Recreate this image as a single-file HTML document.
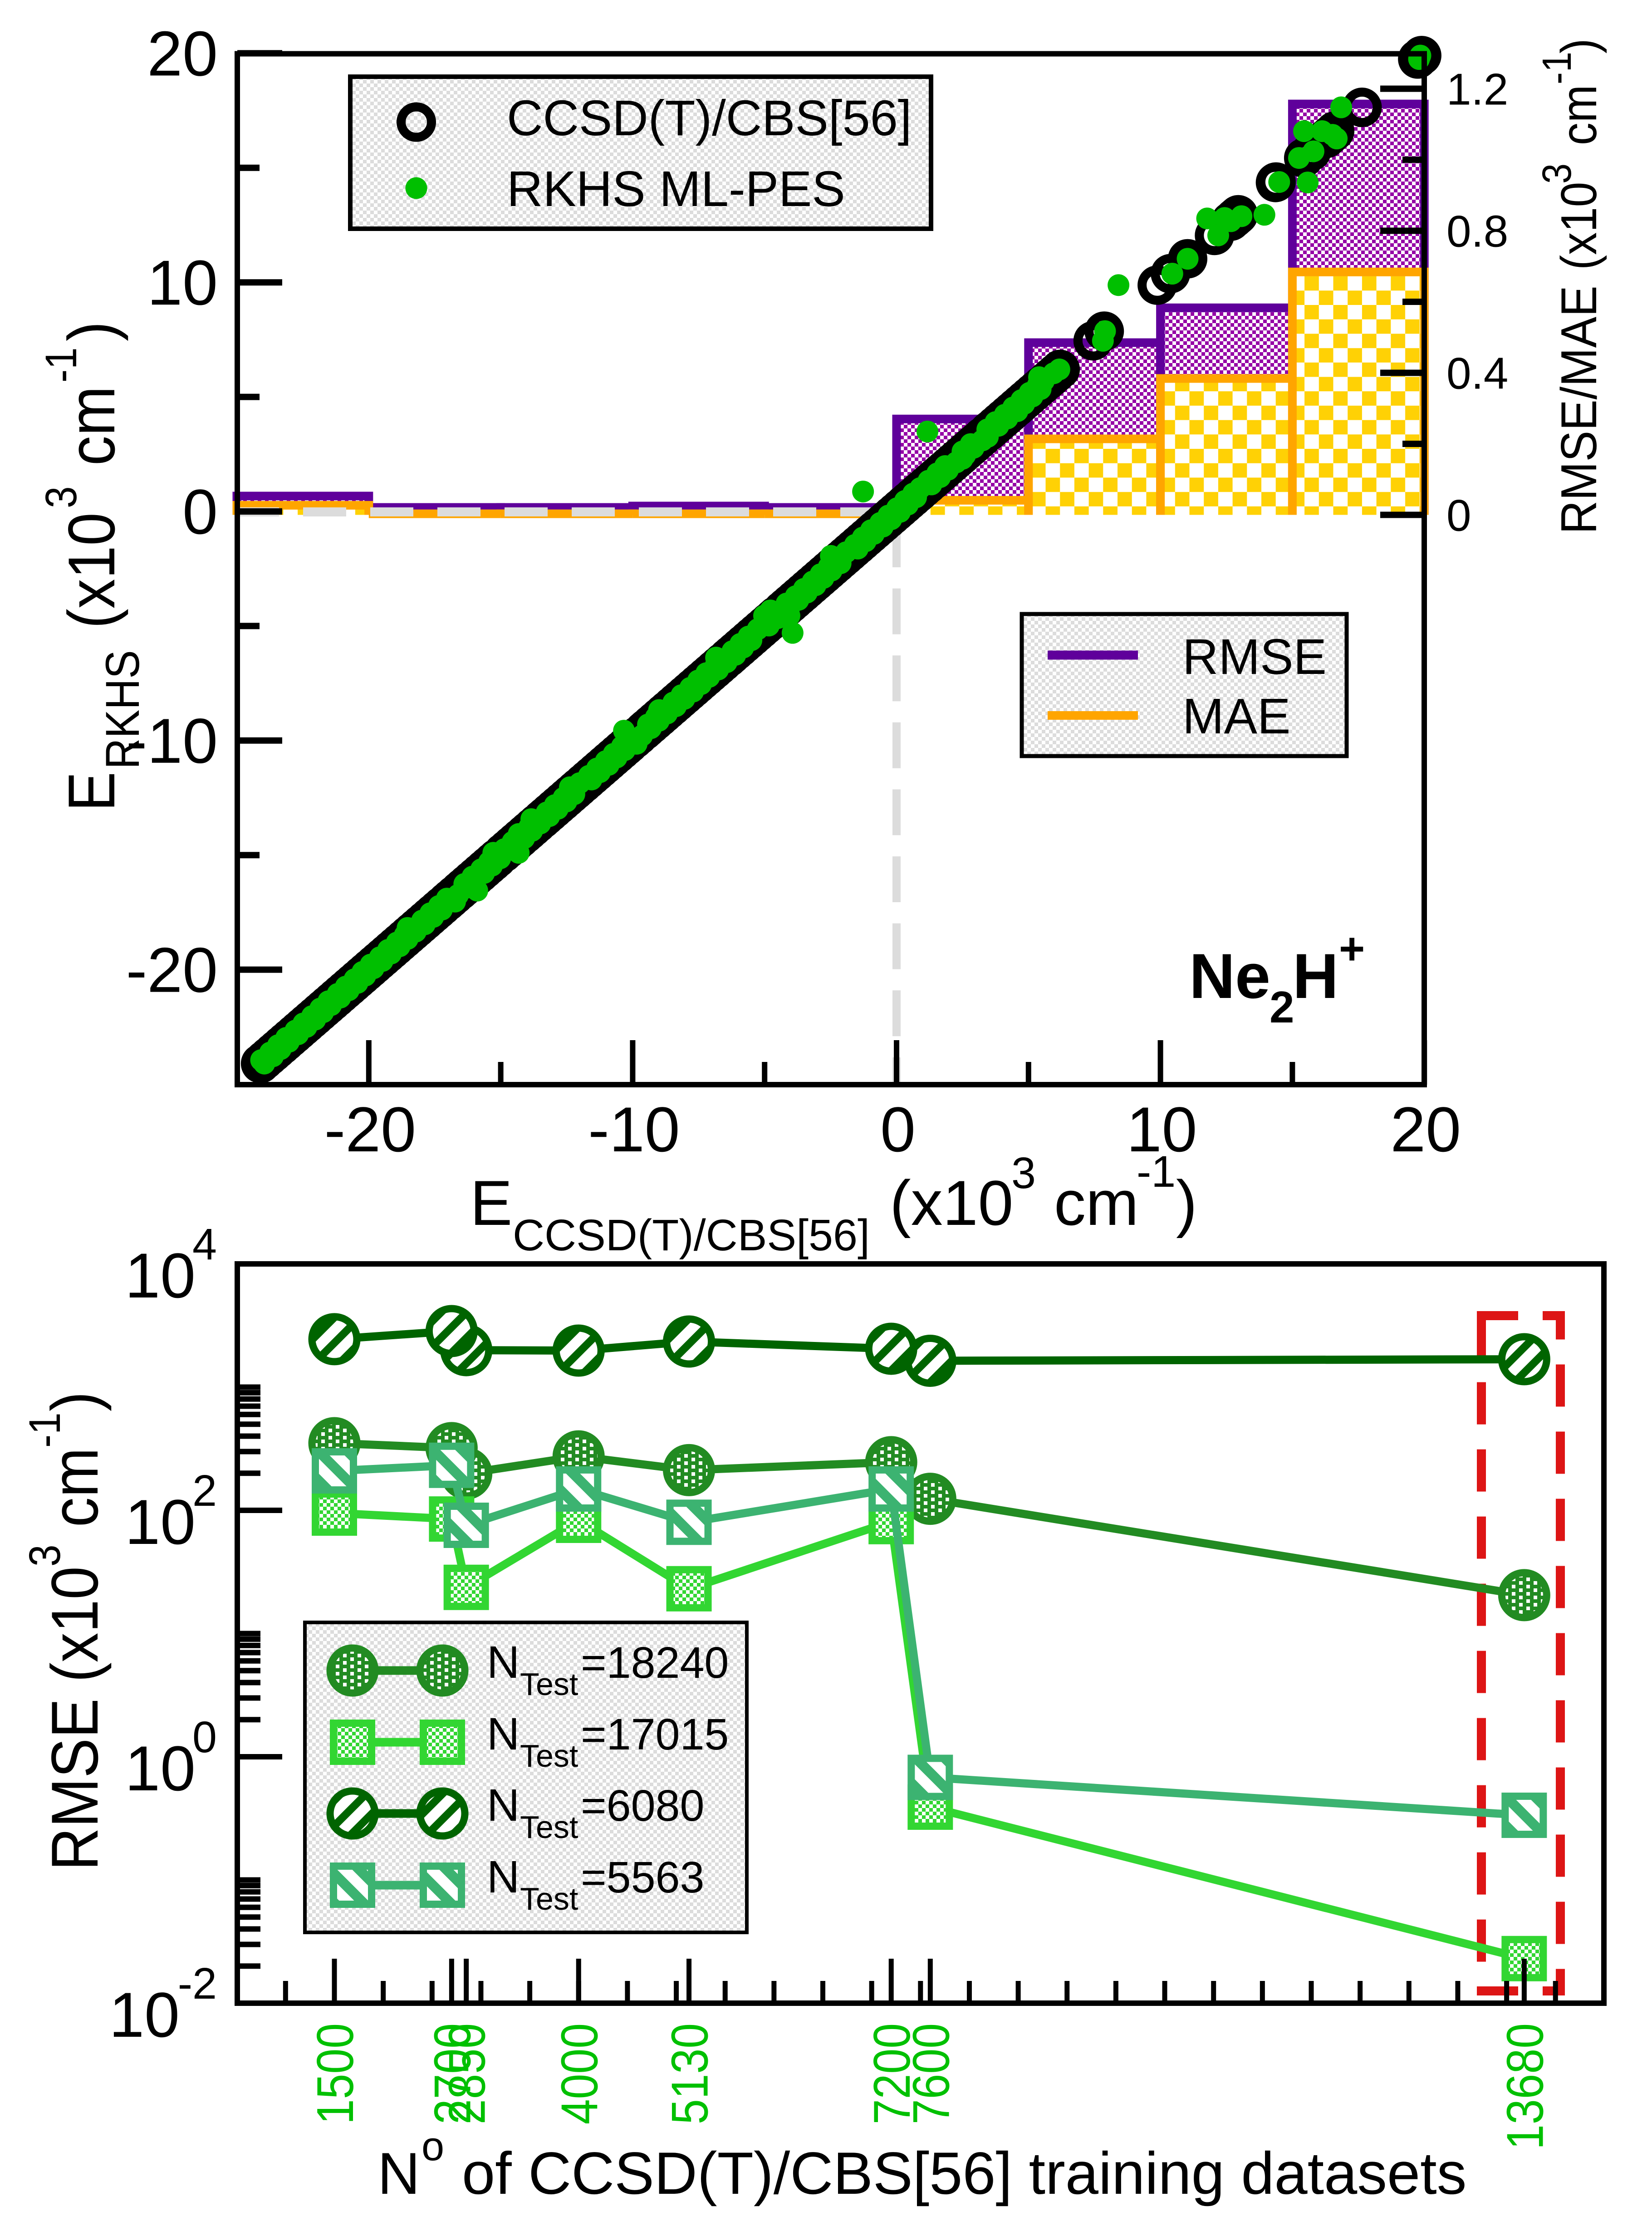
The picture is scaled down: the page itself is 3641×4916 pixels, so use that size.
<!DOCTYPE html>
<html lang="en">
<head>
<meta charset="utf-8">
<title>Ne2H+ RKHS ML-PES correlation and RMSE convergence</title>
<style>
html,body{margin:0;padding:0;background:#fff;}
svg{display:block;}
text{font-family:"Liberation Sans",sans-serif;fill:#000;}
</style>
</head>
<body>
<svg id="figure" xmlns="http://www.w3.org/2000/svg" width="3641" height="4916" viewBox="0 0 3641 4916">
<defs>
<pattern id="legendFill" patternUnits="userSpaceOnUse" width="16" height="16">
<rect width="16" height="16" fill="#fff"/><rect width="8" height="8" fill="#dcdcdc"/><rect x="8" y="8" width="8" height="8" fill="#dcdcdc"/>
</pattern>
<pattern id="rmseFill" patternUnits="userSpaceOnUse" width="16" height="16">
<rect width="16" height="16" fill="#fff"/><rect width="8" height="8" fill="#9500a6"/><rect x="8" y="8" width="8" height="8" fill="#9500a6"/>
</pattern>
<pattern id="maeFill" patternUnits="userSpaceOnUse" width="63.4" height="63.4" patternTransform="translate(2304.5,989)">
<rect width="63.4" height="63.4" fill="#fff"/><rect width="31.7" height="31.7" fill="#ffd105"/><rect x="31.7" y="31.7" width="31.7" height="31.7" fill="#ffd105"/>
</pattern>
<pattern id="dotsFill" patternUnits="userSpaceOnUse" width="32" height="16">
<rect width="32" height="16" fill="#228b22"/><rect x="4" y="4" width="8" height="8" fill="#fff"/><rect x="20" y="12" width="8" height="4" fill="#fff"/><rect x="20" y="0" width="8" height="4" fill="#fff"/>
</pattern>
<pattern id="checkFill" patternUnits="userSpaceOnUse" width="16" height="16">
<rect width="16" height="16" fill="#fff"/><rect width="8" height="8" fill="#32d632"/><rect x="8" y="8" width="8" height="8" fill="#32d632"/>
</pattern>
<pattern id="stripeUp" patternUnits="userSpaceOnUse" width="56" height="56">
<rect width="56" height="56" fill="#fff"/><path d="M-14 14L14 -14M0 56L56 0M42 70L70 42" stroke="#006400" stroke-width="17" fill="none"/>
</pattern>
<pattern id="stripeDown" patternUnits="userSpaceOnUse" width="64" height="64">
<rect width="64" height="64" fill="#fff"/><path d="M-16 48L16 80M0 0L64 64M48 -16L80 16" stroke="#3cb371" stroke-width="22" fill="none"/>
</pattern>
</defs>
<rect width="3641" height="4916" fill="#fff"/>

<g id="topBars"></g>
<line x1="522" y1="1128" x2="1944" y2="1128" stroke="#dcdcdc" stroke-width="20" stroke-dasharray="95 53" stroke-dashoffset="2"/>
<line x1="1976" y1="1149" x2="1976" y2="2384" stroke="#dcdcdc" stroke-width="18" stroke-dasharray="101 46.6"/>
<g id="topRings"></g>
<g id="topDots"></g>
<rect x="523" y="118.5" width="2616" height="2271.5" fill="none" stroke="#000" stroke-width="12"/>
<g id="topAxes"></g>

<g>
<rect x="772" y="169" width="1280" height="335" fill="url(#legendFill)" stroke="#000" stroke-width="10"/>
<circle cx="917.5" cy="269" r="33.5" fill="none" stroke="#000" stroke-width="20"/>
<circle cx="917.5" cy="414.5" r="24" fill="#00bf00"/>
<text x="1117" y="298" font-size="110">CCSD(T)/CBS[56]</text>
<text x="1117" y="454" font-size="110">RKHS ML-PES</text>
</g>

<g>
<rect x="2252" y="1353" width="716" height="313" fill="url(#legendFill)" stroke="#000" stroke-width="9"/>
<line x1="2309" y1="1443.5" x2="2508" y2="1443.5" stroke="#5f009b" stroke-width="20"/>
<line x1="2309" y1="1576.5" x2="2508" y2="1576.5" stroke="#ffa500" stroke-width="19"/>
<text x="2606" y="1485" font-size="110">RMSE</text>
<text x="2606" y="1616" font-size="110">MAE</text>
</g>

<g font-weight="bold">
<text x="2621" y="2199" font-size="140" font-weight="bold">Ne</text>
<text x="2798" y="2253" font-size="98" font-weight="bold">2</text>
<text x="2849" y="2199" font-size="140" font-weight="bold">H</text>
<text x="2951" y="2124" font-size="98" font-weight="bold">+</text>
</g>

<g>
<text transform="translate(252,1788) rotate(-90) scale(.9,1)" font-size="146">E</text>
<text transform="translate(306,1695) rotate(-90) scale(.9,1)" font-size="105">RKHS</text>
<text transform="translate(252,1385) rotate(-90) scale(.9,1)" font-size="146">(x10</text>
<text transform="translate(168,1120) rotate(-90) scale(.9,1)" font-size="97">3</text>
<text transform="translate(252,1026) rotate(-90) scale(.9,1)" font-size="146">cm</text>
<text transform="translate(168,843) rotate(-90) scale(.9,1)" font-size="97">-1</text>
<text transform="translate(252,752) rotate(-90) scale(.9,1)" font-size="146">)</text>
</g>

<g>
<text x="1036" y="2699" font-size="140">E</text>
<text x="1130" y="2755" font-size="97">CCSD(T)/CBS[56]</text>
<text x="1961" y="2699" font-size="140">(x10</text>
<text x="2229" y="2618" font-size="97">3</text>
<text x="2323" y="2699" font-size="140">cm</text>
<text x="2505" y="2615" font-size="97">-1</text>
<text x="2592" y="2699" font-size="140">)</text>
</g>

<g>
<text transform="translate(3518,1177) rotate(-90) scale(.925,1)" font-size="111">RMSE/MAE</text>
<text transform="translate(3518,595) rotate(-90) scale(.9,1)" font-size="111">(x10</text>
<text transform="translate(3462,405) rotate(-90) scale(.9,1)" font-size="90">3</text>
<text transform="translate(3518,320) rotate(-90) scale(.9,1)" font-size="111">cm</text>
<text transform="translate(3462,186) rotate(-90) scale(.9,1)" font-size="90">-1</text>
<text transform="translate(3518,118) rotate(-90) scale(.9,1)" font-size="111">)</text>
</g>

<g stroke="#dd1515" stroke-width="20" fill="none">
<line x1="3255" y1="2899" x2="3449" y2="2899" stroke-dasharray="91 54"/>
<line x1="3255" y1="4387" x2="3449" y2="4387" stroke-dasharray="91 54"/>
<line x1="3265" y1="2889" x2="3265" y2="4397" stroke-dasharray="93 55" stroke-dashoffset="139.4"/>
<line x1="3439" y1="2889" x2="3439" y2="4397" stroke-dasharray="93 55" stroke-dashoffset="30.5"/>
</g>

<g id="bottomSeries"></g>
<rect x="523" y="2785" width="3012" height="1629" fill="none" stroke="#000" stroke-width="12"/>
<g id="bottomAxes"></g>

<g>
<rect x="672" y="3575" width="974" height="683" fill="url(#legendFill)" stroke="#000" stroke-width="8"/>
<g>
<line x1="777" y1="3681" x2="975" y2="3681" stroke="#228b22" stroke-width="19"/>
<circle cx="777" cy="3681" r="49.5" fill="url(#dotsFill)" stroke="#228b22" stroke-width="16"/>
<circle cx="975" cy="3681" r="49.5" fill="url(#dotsFill)" stroke="#228b22" stroke-width="16"/>
<text x="1073" y="3697" font-size="100">N</text>
<text x="1146" y="3735" font-size="70">Test</text>
<text x="1280" y="3697" font-size="97">=18240</text>
</g>
<g>
<line x1="777" y1="3839" x2="975" y2="3839" stroke="#32d632" stroke-width="19"/>
<rect x="735" y="3797" width="84" height="84" fill="url(#checkFill)" stroke="#32d632" stroke-width="16"/>
<rect x="933" y="3797" width="84" height="84" fill="url(#checkFill)" stroke="#32d632" stroke-width="16"/>
<text x="1073" y="3855" font-size="100">N</text>
<text x="1146" y="3893" font-size="70">Test</text>
<text x="1280" y="3855" font-size="97">=17015</text>
</g>
<g>
<line x1="777" y1="3996" x2="975" y2="3996" stroke="#006400" stroke-width="19"/>
<circle cx="777" cy="3996" r="49.5" fill="url(#stripeUp)" stroke="#006400" stroke-width="16"/>
<circle cx="975" cy="3996" r="49.5" fill="url(#stripeUp)" stroke="#006400" stroke-width="16"/>
<text x="1073" y="4012" font-size="100">N</text>
<text x="1146" y="4050" font-size="70">Test</text>
<text x="1280" y="4012" font-size="97">=6080</text>
</g>
<g>
<line x1="777" y1="4154" x2="975" y2="4154" stroke="#3cb371" stroke-width="19"/>
<rect x="735" y="4112" width="84" height="84" fill="url(#stripeDown)" stroke="#3cb371" stroke-width="16"/>
<rect x="933" y="4112" width="84" height="84" fill="url(#stripeDown)" stroke="#3cb371" stroke-width="16"/>
<text x="1073" y="4170" font-size="100">N</text>
<text x="1146" y="4208" font-size="70">Test</text>
<text x="1280" y="4170" font-size="97">=5563</text>
</g>
</g>

<g>
<text transform="translate(215,4122) rotate(-90) scale(.9,1)" font-size="146">RMSE</text>
<text transform="translate(215,3707) rotate(-90) scale(.9,1)" font-size="146">(x10</text>
<text transform="translate(132,3452) rotate(-90) scale(.9,1)" font-size="97">3</text>
<text transform="translate(215,3365) rotate(-90) scale(.9,1)" font-size="146">cm</text>
<text transform="translate(132,3190) rotate(-90) scale(.9,1)" font-size="97">-1</text>
<text transform="translate(215,3110) rotate(-90) scale(.9,1)" font-size="146">)</text>
</g>

<g>
<text x="832" y="4834" font-size="130">N</text>
<text x="929" y="4760" font-size="90">o</text>
<text x="1018" y="4834" font-size="131.5">of CCSD(T)/CBS[56] training datasets</text>
</g>
</svg>

<script>
/* ---- top panel data ---- */
const referenceEnergy = [
-24.10,-23.95,-23.78,-23.62,-23.47,-23.30,-23.15,-22.98,-22.82,-22.66,
-22.50,-22.35,-22.18,-22.03,-21.86,-21.70,-21.55,-21.38,-21.22,-21.06,
-20.90,-20.74,-20.58,-20.42,-20.26,-20.10,-19.94,-19.78,-19.62,-19.46,
-19.30,-19.14,-18.98,-18.82,-18.66,-18.50,-18.34,-18.18,-18.02,-17.86,
-17.70,-17.54,-17.38,-17.22,-17.03,-16.90,-16.74,-16.55,-16.42,-16.26,
-16.10,-15.94,-15.78,-15.62,-15.46,-15.30,-15.14,-14.90,-14.90,-14.74,
-14.58,-14.42,-14.26,-14.08,-13.94,-13.78,-13.62,-13.43,-13.30,-13.14,
-12.98,-12.82,-12.66,-12.50,-12.34,-12.18,-12.04,-11.86,-11.70,-11.54,
-11.38,-11.22,-11.06,-10.90,-10.74,-10.58,-10.42,-10.26,-10.14,-9.94,
-9.78,-9.57,-9.46,-9.30,-9.14,-8.98,-8.82,-8.67,-8.50,-8.34,
-8.18,-8.02,-7.86,-7.70,-7.54,-7.38,-7.22,-7.06,-6.90,-6.74,
-6.58,-6.38,-6.26,-6.10,-5.94,-5.78,-5.62,-5.46,-5.30,-5.14,
-4.98,-4.82,-4.66,-4.55,-4.55,-4.32,-4.18,-4.02,-3.86,-3.70,
-3.54,-3.38,-3.22,-3.06,-2.90,-2.74,-2.58,-2.42,-2.26,-2.10,
-1.94,-1.78,-1.62,-1.46,-1.30,-1.14,-0.98,-0.82,-0.66,-0.50,
-0.34,-0.18,-0.02,0.14,0.30,0.46,0.62,0.78,0.87,1.02,
1.18,1.34,1.50,1.66,1.82,1.98,2.14,2.30,2.46,2.62,
2.78,2.94,3.10,3.26,3.49,3.58,3.74,3.90,4.06,4.22,
4.38,4.54,4.70,4.86,5.02,5.18,5.34,5.50,5.70,5.86,
6.03,6.20,7.45,7.87,9.88,10.38,11.03,12.05,12.67,12.79,
12.81,12.89,12.95,14.36,14.38,15.43,15.72,16.28,16.44,16.60,
16.60,17.64,19.75,19.90];
const rkhsEnergy = [
-23.96,-24.08,-23.63,-23.74,-23.34,-23.44,-23.03,-23.13,-22.68,-22.78,
-22.36,-22.48,-22.03,-22.15,-21.73,-21.84,-21.43,-21.53,-21.08,-21.18,
-20.76,-20.87,-20.43,-20.54,-20.13,-20.24,-19.82,-19.93,-19.48,-19.58,
-19.16,-19.27,-18.83,-18.94,-18.53,-18.64,-18.22,-18.53,-17.88,-17.98,
-17.56,-17.67,-17.23,-17.34,-16.73,-17.04,-16.62,-15.89,-16.28,-16.38,
-15.96,-16.07,-15.63,-15.74,-15.33,-15.44,-15.02,-15.28,-14.32,-14.86,
-14.44,-14.55,-14.11,-14.32,-13.81,-13.92,-13.50,-13.84,-13.16,-13.26,
-12.84,-12.95,-12.51,-12.62,-12.21,-12.32,-12.38,-12.01,-11.56,-11.66,
-11.24,-11.35,-10.91,-11.02,-10.61,-10.72,-10.30,-10.41,-9.85,-10.06,
-9.64,-10.33,-9.31,-9.42,-9.01,-9.12,-8.70,-9.00,-8.36,-8.46,
-8.04,-8.15,-7.71,-7.82,-7.41,-7.52,-7.10,-7.21,-6.76,-6.86,
-6.44,-6.84,-6.11,-6.22,-5.81,-5.92,-5.50,-5.61,-3.94,-5.26,
-4.84,-4.95,-4.51,-4.06,-5.02,-4.78,-4.06,-4.17,-3.72,-3.82,
-3.40,-3.51,-3.07,-3.18,-2.77,-2.88,-2.46,-2.57,-2.12,-2.22,
-2.49,-1.91,-1.47,-1.58,-1.17,-1.28,-0.86,-0.97,-0.52,-0.62,
-0.20,-0.31,0.13,0.02,0.43,0.32,0.74,0.63,-1.27,0.90,
1.32,1.21,1.65,1.54,1.95,1.84,2.26,2.50,2.60,2.50,
2.92,2.81,3.25,3.46,1.17,3.44,3.86,3.75,4.20,4.10,
4.58,4.42,4.84,4.73,5.15,5.04,5.46,5.35,5.58,5.40,
5.95,6.17,7.82,7.90,8.41,10.45,11.03,12.19,12.67,11.77,
12.43,13.07,13.94,15.58,14.50,15.25,15.80,16.68,16.52,15.44,
16.13,16.85,19.80,19.85];
const binEdges = [-25,-20,-15,-10,-5,0,5,10,15,20];
const rmseByBin = [0.053,0.021,0.021,0.025,0.021,0.27,0.485,0.583,1.157];
const maeByBin = [0.027,0.003,0.003,0.003,0.003,0.041,0.214,0.384,0.684];
const topMajorTicks = [-20,-10,0,10,20];
const topMinorTicks = [-15,-5,5,15];
const rightMajorTicks = [0,0.4,0.8,1.2];
const rightMinorTicks = [0.2,0.6,1.0];
const rightTickLabels = ['0','0.4','0.8','1.2'];

/* ---- bottom panel data ---- */
const trainingSizes = [1500,2700,2850,4000,5130,7200,7600,13680];
const rmse18240 = [351,320,199,274,212,246,124,20.5];
const rmse17015 = [95,85,23.7,83,23.1,81,0.39,0.023];
const rmse6080 = [2449,2851,1995,1979,2344,2048,1636,1684];
const rmse5563 = [209,232,75.6,149,80,149,0.68,0.335];
const minorSampleTicks = [1000,1500,2000,2500,3000,3500,4000,4500,5000,5500,6000,6500,7000,7500,8000,8500,9000,9500,10000,10500,11000,11500,12000,12500,13000,13500,14000];
const logMajorExponents = [4,2,0,-2];
const logMinorDecades = [-2,0,2];
const logMinorMultipliers = [2,3,4,5,6,7,8,9,10];

const SVGNS = 'http://www.w3.org/2000/svg';
function node(tag, parent, attrs) {
  const el = document.createElementNS(SVGNS, tag);
  for (const k in attrs) el.setAttribute(k, attrs[k]);
  parent.appendChild(el);
  return el;
}
const xTop = v => 1976 + 58.16 * v;
const yTop = v => 1127 - 50.48 * v;
const yRight = v => 1134.5 - 782.5 * v;
const xBottom = n => 737 + 0.2153 * (n - 1500);
const yBottom = v => 3328 - 271.5 * (Math.log10(v) - 2);

/* histogram */
const barsGroup = document.getElementById('topBars');
function drawBars(values, fillId, strokeColor, label) {
  values.forEach((v, i) => {
    const x0 = xTop(binEdges[i]), x1 = xTop(binEdges[i + 1]);
    const top = yRight(v), base = yRight(0);
    const fill = node('rect', barsGroup, {x: x0, y: top, width: x1 - x0, height: Math.max(base - top, 0), fill: 'url(#' + fillId + ')'});
    
    
    const outline = node('path', barsGroup, {d: 'M' + x0 + ' ' + base + 'L' + x0 + ' ' + top + 'L' + x1 + ' ' + top + 'L' + x1 + ' ' + base, fill: 'none', stroke: strokeColor, 'stroke-width': 19});
    
    
  });
}
drawBars(rmseByBin, 'rmseFill', '#5f009b', 'rmse');
drawBars(maeByBin, 'maeFill', '#ffa500', 'mae');

/* scatter */
const ringsGroup = document.getElementById('topRings');
const dotsGroup = document.getElementById('topDots');
referenceEnergy.forEach((e) => {
  const ring = node('circle', ringsGroup, {cx: xTop(e), cy: yTop(e), r: 33.5, fill: 'none', stroke: '#000', 'stroke-width': 20});
  
  
});
referenceEnergy.forEach((e, i) => {
  const dot = node('circle', dotsGroup, {cx: xTop(rkhsEnergy[i]), cy: yTop(e), r: 24, fill: '#00bf00'});
  
  
});

/* top axes */
const topAxes = document.getElementById('topAxes');
function tickLine(parent, x1, y1, x2, y2, width, label) {
  const t = node('line', parent, {x1: x1, y1: y1, x2: x2, y2: y2, stroke: '#000', 'stroke-width': width});
  
  
  return t;
}
function tickText(parent, str, x, y, size, anchor, label, color) {
  const t = node('text', parent, {x: x, y: y, 'font-size': size, 'text-anchor': anchor});
  if (color) t.style.fill = color;
  t.textContent = str;
  
  
  return t;
}
topMajorTicks.forEach(v => {
  tickLine(topAxes, xTop(v), 2390, xTop(v), 2292, 12, 'top-x-major-tick');
  tickLine(topAxes, 523, yTop(v), 622, yTop(v), 14, 'top-y-major-tick');
  tickText(topAxes, String(v), xTop(v) + 3, 2537, 140, 'middle', 'top-x-tick-label');
  tickText(topAxes, String(v), 480, yTop(v) + 49, 140, 'end', 'top-y-tick-label');
});
topMinorTicks.forEach(v => {
  tickLine(topAxes, xTop(v), 2390, xTop(v), 2340, 12, 'top-x-minor-tick');
  tickLine(topAxes, 523, yTop(v), 572, yTop(v), 14, 'top-y-minor-tick');
});
rightMajorTicks.forEach((v, i) => {
  tickLine(topAxes, 3139, yRight(v), 3042, yRight(v), 14, 'right-y-major-tick');
  tickText(topAxes, rightTickLabels[i], 3188, yRight(v) + 35, 98, 'start', 'right-y-tick-label');
});
rightMinorTicks.forEach(v => {
  tickLine(topAxes, 3139, yRight(v), 3091, yRight(v), 14, 'right-y-minor-tick');
});

/* bottom series */
const seriesGroup = document.getElementById('bottomSeries');
function drawSeries(values, color, shape, fillId, label) {
  const pts = values.map((v, i) => xBottom(trainingSizes[i]) + ',' + yBottom(v)).join(' ');
  const line = node('polyline', seriesGroup, {points: pts, fill: 'none', stroke: color, 'stroke-width': 18, 'stroke-linejoin': 'round'});
  
  
  for (let i = values.length - 1; i >= 0; i--) {
    const cx = xBottom(trainingSizes[i]), cy = yBottom(values[i]);
    const mark = shape === 'circle'
      ? node('circle', seriesGroup, {cx: cx, cy: cy, r: 49.5, fill: 'url(#' + fillId + ')', stroke: color, 'stroke-width': 16})
      : node('rect', seriesGroup, {x: cx - 42, y: cy - 42, width: 84, height: 84, fill: 'url(#' + fillId + ')', stroke: color, 'stroke-width': 16});
    
    
  }
}
drawSeries(rmse18240, '#228b22', 'circle', 'dotsFill', 'ntest-18240');
drawSeries(rmse17015, '#32d632', 'square', 'checkFill', 'ntest-17015');
drawSeries(rmse6080, '#006400', 'circle', 'stripeUp', 'ntest-6080');
drawSeries(rmse5563, '#3cb371', 'square', 'stripeDown', 'ntest-5563');

/* bottom axes */
const bottomAxes = document.getElementById('bottomAxes');
minorSampleTicks.forEach(n => {
  tickLine(bottomAxes, xBottom(n), 4414, xBottom(n), 4365, 11, 'bottom-x-minor-tick');
});
trainingSizes.forEach(n => {
  tickLine(bottomAxes, xBottom(n), 4414, xBottom(n), 4316, 11, 'bottom-x-major-tick');
  const t = node('text', bottomAxes, {transform: 'translate(' + (xBottom(n) + 41) + ',4458) rotate(-90) scale(.88,1)', 'font-size': 114, 'text-anchor': 'end'});
  t.style.fill = '#00c000';
  t.textContent = String(n);
  
  
});
logMajorExponents.forEach(e => {
  const y = yBottom(Math.pow(10, e));
  tickLine(bottomAxes, 523, y, 622, y, 12, 'bottom-y-major-tick');
  const exp = String(e);
  tickText(bottomAxes, exp, 478, y - 10, 97, 'end', 'bottom-y-tick-exponent');
  tickText(bottomAxes, '10', e < 0 ? 396 : 431, y + 74, 140, 'end', 'bottom-y-tick-label');
});
logMinorDecades.forEach(e => {
  logMinorMultipliers.forEach(m => {
    const y = yBottom(m * Math.pow(10, e));
    tickLine(bottomAxes, 523, y, 574, y, 12, 'bottom-y-minor-tick');
  });
});
</script>
</body>
</html>
